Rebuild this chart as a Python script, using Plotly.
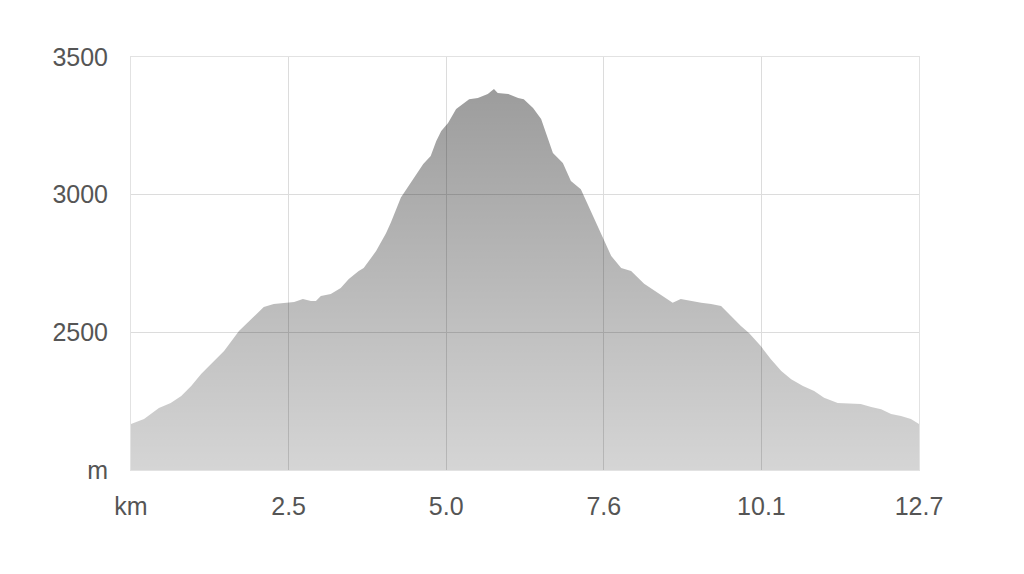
import plotly.graph_objects as go

# Elevation profile (distance in km, elevation in m)
dist_km = [0.00, 0.21, 0.45, 0.64, 0.81, 0.97, 1.13, 1.29, 1.50, 1.74, 1.93, 2.14, 2.30,
           2.63, 2.77, 2.90, 2.98, 3.06, 3.22, 3.38, 3.51, 3.67, 3.75, 3.87, 3.95, 4.11,
           4.19, 4.35, 4.56, 4.71, 4.83, 4.92, 5.00, 5.11, 5.24, 5.45, 5.59, 5.75, 5.85,
           5.91, 6.08, 6.24, 6.33, 6.48, 6.61, 6.72, 6.80, 6.96, 7.09, 7.25, 7.41, 7.57,
           7.74, 7.90, 8.06, 8.27, 8.49, 8.73, 8.86, 9.02, 9.19, 9.35, 9.51, 9.67, 9.83,
           9.96, 10.15, 10.31, 10.48, 10.64, 10.83, 11.01, 11.17, 11.39, 11.60, 11.76,
           11.93, 12.09, 12.25, 12.41, 12.57, 12.70]
elev_m = [2167, 2185, 2225, 2243, 2269, 2305, 2349, 2385, 2432, 2505, 2548, 2592, 2603,
          2610, 2621, 2614, 2614, 2632, 2639, 2661, 2694, 2723, 2734, 2770, 2795, 2860,
          2900, 2990, 3061, 3111, 3140, 3195, 3231, 3260, 3311, 3347, 3351, 3366, 3384,
          3369, 3366, 3351, 3347, 3315, 3275, 3206, 3151, 3115, 3050, 3020, 2941, 2857,
          2777, 2734, 2723, 2676, 2643, 2607, 2621, 2614, 2607, 2603, 2596, 2559, 2523,
          2498, 2450, 2403, 2360, 2330, 2305, 2287, 2262, 2243, 2240, 2240,
          2229, 2221, 2203, 2196, 2185, 2167]

x_tickvals = [0, 2.54, 5.08, 7.62, 10.16, 12.7]
x_ticktext = ["km", "2.5", "5.0", "7.6", "10.1", "12.7"]
y_tickvals = [2000, 2500, 3000, 3500]
y_ticktext = ["m", "2500", "3000", "3500"]

fig = go.Figure()
fig.add_trace(go.Scatter(
    x=dist_km, y=elev_m, mode="lines", fill="tozeroy",
    line=dict(width=0, color="rgba(0,0,0,0)"),
    fillgradient=dict(
        type="vertical", start=2000, stop=3400,
        colorscale=[[0, "rgba(0,0,0,0.165)"], [1, "rgba(0,0,0,0.39)"]],
    ),
    hoverinfo="skip", showlegend=False,
))

font_fam = "Liberation Sans, Arial, sans-serif"
fig.update_layout(
    width=1024, height=574,
    margin=dict(l=123, r=113, t=49, b=112),
    paper_bgcolor="white", plot_bgcolor="white",
    showlegend=False,
    font=dict(family=font_fam, size=25, color="#555555"),
)
fig.update_xaxes(
    range=[0, 12.7], tickvals=x_tickvals, ticktext=x_ticktext,
    showgrid=True, gridcolor="#dcdcdc", gridwidth=1,
    showline=True, linecolor="#e2e2e2", linewidth=1, mirror=True,
    zeroline=False, ticks="", ticklabelstandoff=14,
    tickfont=dict(family=font_fam, size=25, color="#555555"),
)
fig.update_yaxes(
    range=[2000, 3500], tickvals=y_tickvals, ticktext=y_ticktext,
    showgrid=True, gridcolor="#dcdcdc", gridwidth=1,
    showline=True, linecolor="#e2e2e2", linewidth=1, mirror=True,
    zeroline=False, ticks="", ticklabelstandoff=17,
    tickfont=dict(family=font_fam, size=25, color="#555555"),
)

fig.write_html("out.html")
